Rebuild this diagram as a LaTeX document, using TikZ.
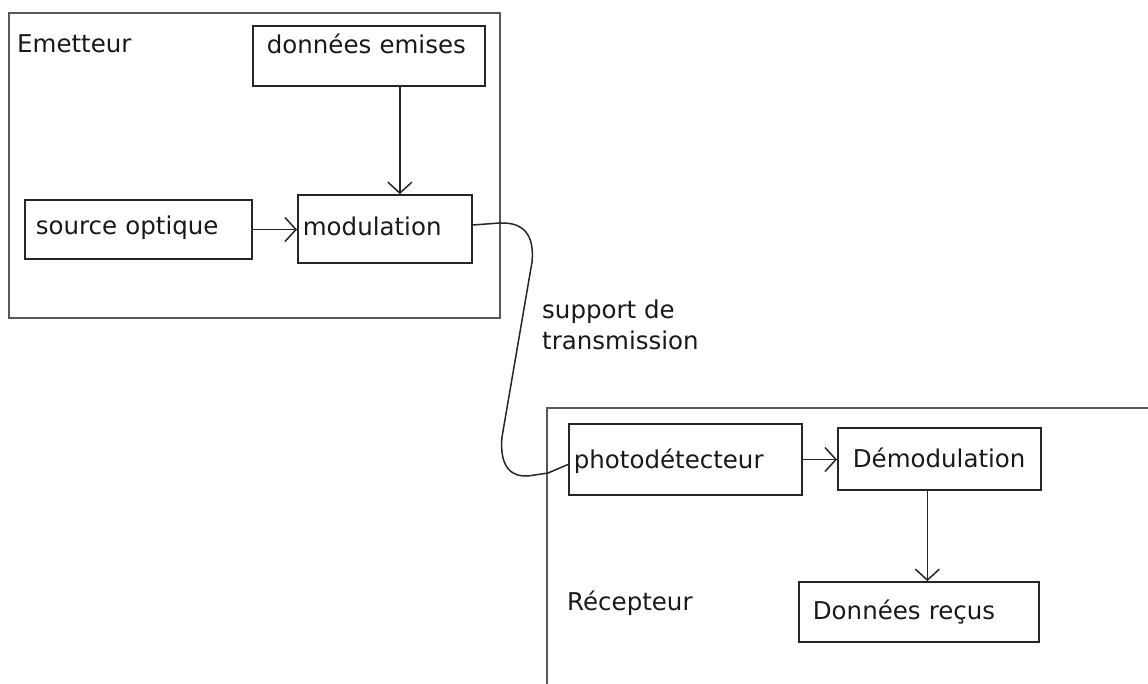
\documentclass[tikz,border=0pt]{standalone}
\usepackage{fontspec}
\setmainfont{DejaVu Sans}
\usetikzlibrary{arrows.meta,positioning,calc}
\tikzset{
bloc/.style={draw=black!85, line width=1.7pt, inner ysep=0pt, align=left, anchor=base west},
cadre/.style={draw=black!65, line width=2.2pt},
titre/.style={inner sep=0pt, anchor=base west},
fleche/.style={-{Straight Barb[length=11pt,width=24pt]}, line width=1.5pt, draw=black!85},
fibre/.style={line width=1.5pt, draw=black!85},
}
\tikzstyle{every node}=[font=\fontsize{24.5}{31}\selectfont, text=black!90]

\begin{document}
\begin{tikzpicture}[x=1pt,y=-1pt]
    \useasboundingbox (0,0) rectangle (1148,684);

        % Emetteur
        \draw[cadre] (9,13) rectangle (500,318);
        \node[titre] (emet) at (17,53) {Emetteur};
        \node[bloc, inner xsep=14pt, text width=204pt, text height=28pt, text depth=32pt]
        (emises) at (252,54) {données emises};
        \node[bloc, inner xsep=11pt, text width=205pt, text height=35pt, text depth=24pt]
        (source) at (24,235) {source optique};
        \node[bloc, inner xsep=5pt, text width=164pt, text height=41pt, text depth=27pt]
        (modul) at (297,236) {modulation};

        \draw[fleche] (source.east) -- (source.east -| modul.west);
        \draw[fleche] ([xshift=31pt]emises.south) -- ([xshift=31pt]emises.south |- modul.north);

        % Recepteur (open at the page border)
        \draw[cadre] (547,684) |- (1148,408);
        \node[titre] (recep) at (567,610) {Récepteur};
        \node[bloc, inner xsep=5pt, text width=223pt, text height=44pt, text depth=27pt]
        (photo) at (568,468) {photodétecteur};
        \node[bloc, inner xsep=15pt, text width=173pt, text height=39pt, text depth=23pt]
        (demod) at (837,467) {Démodulation};
        \node[bloc, inner xsep=14pt, text width=212pt, text height=37pt, text depth=23pt]
        (recus) at (798,619) {Données reçus};

        \draw[fleche] (photo.east) -- (photo.east -| demod.west);
        \draw[fleche] ([xshift=-12pt]demod.south) -- ([xshift=-12pt]demod.south |- recus.north);

        % Fibre between both sides
        \draw[fibre] ([yshift=4pt]modul.east) -- (500,223)
        .. controls (528,222) and (534,240) .. (532,262) -- (502,437)
        .. controls (499,470) and (514,477) .. (528,476) -- (548,473)
        -- ([yshift=-5pt]photo.west);
        \node[titre, align=left] (support) at (542,349) {support de\\transmission};

    \end{tikzpicture}
\end{document}
